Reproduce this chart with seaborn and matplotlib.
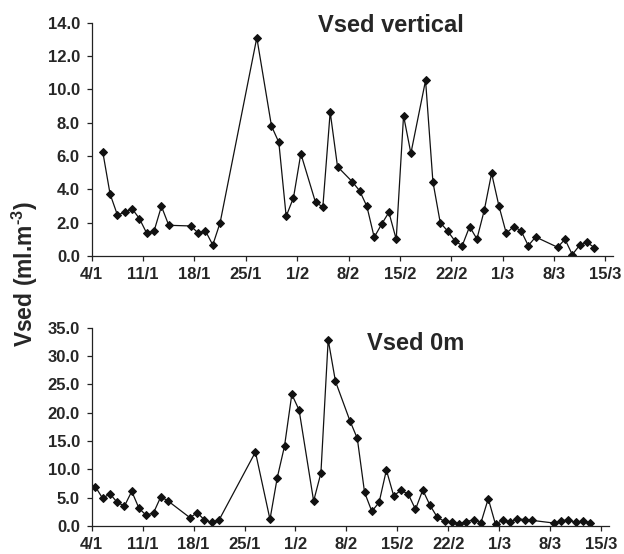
"""Vsed vertical / Vsed 0m time series, two stacked panels."""

import matplotlib
matplotlib.use("Agg")
import matplotlib.pyplot as plt
import numpy as np
import pandas as pd
import seaborn as sns

YEAR = 2007
START = "04/01"

# Vsed vertical (ml.m-3)
vert_dates = [
    "05/01", "06/01", "07/01", "08/01", "09/01", "10/01", "11/01", "12/01", "13/01", "14/01",
    "17/01", "18/01", "19/01", "20/01", "21/01",
    "26/01",
    "28/01", "29/01", "30/01", "31/01", "01/02",
    "03/02", "04/02", "05/02", "06/02",
    "08/02", "09/02", "10/02", "11/02", "12/02", "13/02", "14/02", "15/02", "16/02",
    "18/02", "19/02", "20/02", "21/02", "22/02", "23/02", "24/02", "25/02", "26/02",
    "27/02", "28/02", "01/03", "02/03", "03/03", "04/03", "05/03",
    "08/03", "09/03", "10/03", "11/03", "12/03", "13/03",
]
vert_values = [
    6.26, 3.72, 2.46, 2.62, 2.84, 2.24, 1.36, 1.50, 2.98, 1.84,
    1.80, 1.38, 1.50, 0.66, 2.00,
    13.10,
    7.80, 6.82, 2.38, 3.50, 6.14,
    3.22, 2.94, 8.64, 5.36,
    4.46, 3.92, 2.98, 1.12, 1.90, 2.62, 1.00, 8.42, 6.16,
    10.54, 4.46, 2.00, 1.50, 0.90, 0.62, 1.76, 1.02, 2.74,
    4.96, 3.00, 1.36, 1.76, 1.52, 0.62, 1.14,
    0.52, 1.00, 0.08, 0.64, 0.82, 0.50,
]

# Vsed 0m (ml.m-3)
surf_dates = [
    "04/01", "05/01", "06/01", "07/01", "08/01", "09/01", "10/01", "11/01", "12/01", "13/01", "14/01",
    "17/01", "18/01", "19/01", "20/01", "21/01",
    "26/01",
    "28/01", "29/01", "30/01", "31/01", "01/02",
    "03/02", "04/02", "05/02", "06/02",
    "08/02", "09/02", "10/02", "11/02", "12/02", "13/02", "14/02", "15/02", "16/02",
    "17/02", "18/02", "19/02", "20/02", "21/02", "22/02", "23/02", "24/02", "25/02",
    "26/02", "27/02", "28/02", "01/03", "02/03", "03/03", "04/03", "05/03",
    "08/03", "09/03", "10/03", "11/03", "12/03", "13/03",
]
surf_values = [
    6.94, 4.88, 5.70, 4.18, 3.53, 6.12, 3.12, 1.88, 2.35, 5.18, 4.41,
    1.47, 2.35, 1.06, 0.65, 1.06,
    13.06,
    1.18, 8.53, 14.12, 23.24, 20.47,
    4.41, 9.35, 32.88, 25.53,
    18.53, 15.47, 5.94, 2.59, 4.18, 9.88, 5.35, 6.29, 5.65,
    2.94, 6.35, 3.65, 1.53, 0.82, 0.76, 0.41, 0.76, 1.12,
    0.59, 4.82, 0.29, 1.06, 0.65, 1.29, 1.12, 1.00,
    0.53, 0.88, 1.12, 0.65, 0.88, 0.59,
]

tick_labels = ["4/1", "11/1", "18/1", "25/1", "1/2", "8/2", "15/2", "22/2", "1/3", "8/3", "15/3"]


def to_days(dates):
    d = pd.to_datetime([f"{s}/{YEAR}" for s in dates], format="%d/%m/%Y")
    t0 = pd.to_datetime(f"{START}/{YEAR}", format="%d/%m/%Y")
    # Excel date axis: each day sits in the middle of its slot
    return (d - t0).days.to_numpy() + 0.5


def panel(ax, dates, values, ymax, ystep, title, tx, ty):
    df = pd.DataFrame({"day": to_days(dates), "vsed": values})
    sns.lineplot(data=df, x="day", y="vsed", ax=ax, color="#111111", linewidth=0.9,
                 marker="D", markersize=4.4, markeredgecolor="#111111",
                 estimator=None, sort=False)
    ax.set_xlim(0, 71.1)
    ax.set_ylim(0, ymax)
    ax.set_xticks(np.arange(len(tick_labels)) * 7)
    ax.set_xticklabels(tick_labels)
    ax.set_yticks(np.arange(0, ymax + 0.01, ystep))
    ax.yaxis.set_major_formatter(matplotlib.ticker.FormatStrFormatter("%.1f"))
    ax.set_xlabel("")
    ax.set_ylabel("")
    for lab in ax.get_xticklabels() + ax.get_yticklabels():
        lab.set_fontweight("bold")
    ax.tick_params(axis="both", length=3.6, width=0.9, labelsize=12, color="#222222")
    ax.tick_params(axis="x", pad=4)
    ax.tick_params(axis="y", pad=5)
    ax.text(tx, ty, title, transform=ax.transAxes, ha="center", va="baseline",
            fontsize=17, fontweight="bold")
    sns.despine(ax=ax)
    for sp in ("left", "bottom"):
        ax.spines[sp].set_linewidth(0.9)
        ax.spines[sp].set_color("#222222")


sns.set_style("ticks")
plt.rcParams["font.family"] = ["Liberation Sans", "DejaVu Sans"]
plt.rcParams["mathtext.fontset"] = "custom"
plt.rcParams["mathtext.rm"] = "Liberation Sans:bold"
plt.rcParams["mathtext.bf"] = "Liberation Sans:bold"
plt.rcParams["mathtext.default"] = "bf"

fig = plt.figure(figsize=(6.24, 5.54), dpi=100)
ax_top = fig.add_axes([0.147, 0.538, 0.836, 0.421])
ax_bot = fig.add_axes([0.147, 0.0505, 0.829, 0.358])

panel(ax_top, vert_dates, vert_values, 14, 2, "Vsed vertical", 0.574, 0.96)
panel(ax_bot, surf_dates, surf_values, 35, 5, "Vsed 0m", 0.627, 0.887)

fig.text(0.04, 0.505, r"Vsed (ml.m$^{\text{-3}}$)", rotation=90, ha="center", va="center",
         fontsize=16.5, fontweight="bold")

fig.savefig("out.png", dpi=100)
